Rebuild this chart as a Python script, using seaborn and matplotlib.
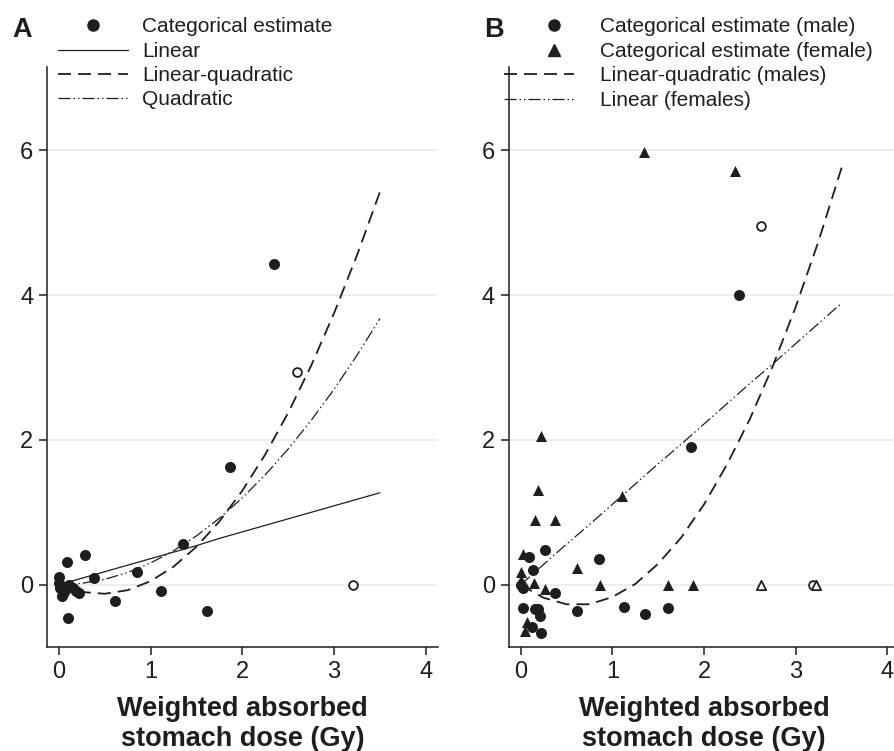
import matplotlib
matplotlib.use("Agg")
import matplotlib.pyplot as plt
from matplotlib.lines import Line2D
import seaborn as sns

# ---- panel A: all cancers combined ----
a_dose = [0.0, 0.0, 0.01, 0.03, 0.06, 0.09, 0.10, 0.11, 0.15, 0.19, 0.22,
          0.28, 0.38, 0.61, 0.85, 1.11, 1.35, 1.62, 1.86, 2.35]
a_est = [0.02, 0.10, -0.05, -0.16, -0.10, 0.31, -0.46, -0.01, -0.05, -0.08, -0.12,
         0.41, 0.09, -0.23, 0.18, -0.08, 0.56, -0.36, 1.63, 4.43]
a_open_dose = [2.60, 3.21]
a_open_est = [2.94, 0.0]

curve_dose = [0.0, 0.25, 0.5, 0.75, 1.0, 1.25, 1.5, 1.75, 2.0, 2.25, 2.5, 2.75, 3.0, 3.25, 3.5]
a_linear = [0.0, 0.09, 0.18, 0.27, 0.36, 0.45, 0.54, 0.64, 0.73, 0.82, 0.91, 1.0, 1.09, 1.18, 1.27]
a_linquad = [0.0, -0.10, -0.125, -0.075, 0.05, 0.25, 0.525, 0.875, 1.3, 1.8, 2.375, 3.025, 3.75, 4.55, 5.425]
a_quad = [0.0, 0.019, 0.075, 0.169, 0.3, 0.469, 0.675, 0.919, 1.2, 1.519, 1.875, 2.269, 2.7, 3.169, 3.675]

# ---- panel B: by sex ----
b_male_dose = [0.0, 0.03, 0.03, 0.09, 0.12, 0.14, 0.16, 0.19, 0.21, 0.22,
               0.27, 0.38, 0.61, 0.86, 1.13, 1.36, 1.61, 1.86, 2.38]
b_male_est = [0.0, -0.05, -0.32, 0.38, -0.58, 0.21, -0.33, -0.34, -0.43, -0.66,
              0.48, -0.12, -0.36, 0.35, -0.31, -0.41, -0.32, 1.90, 4.0]
b_male_open_dose = [2.62, 3.19]
b_male_open_est = [4.95, 0.0]

b_female_dose = [0.0, 0.0, 0.03, 0.05, 0.07, 0.15, 0.16, 0.19, 0.22,
                 0.27, 0.38, 0.62, 0.87, 1.11, 1.35, 1.61, 1.88, 2.34]
b_female_est = [0.18, 0.07, 0.43, -0.64, -0.52, 0.02, 0.90, 1.31, 2.06,
                -0.06, 0.90, 0.23, 0.0, 1.22, 5.98, 0.0, 0.0, 5.72]
b_female_open_dose = [2.62, 3.22]
b_female_open_est = [0.0, 0.0]

b_linquad_male = [0.0, -0.18, -0.27, -0.27, -0.17, 0.01, 0.29, 0.65, 1.11, 1.66, 2.29, 3.02, 3.84, 4.75, 5.76]
b_linear_female = [0.0, 0.28, 0.56, 0.83, 1.11, 1.39, 1.67, 1.94, 2.22, 2.5, 2.78, 3.05, 3.33, 3.61, 3.89]

xlabel = "Weighted absorbed\nstomach dose (Gy)"

sns.set_style("ticks")
plt.rcParams['font.family'] = ['Liberation Sans', 'DejaVu Sans']

ink = '#1e1e1e'
dash_lq = (0, (7.2, 3.9))
dash_ddot = (0, (9.6, 2.4, 1.2, 2.4, 1.2, 2.4))

fig = plt.figure(figsize=(8.94, 7.51), dpi=100)
ax_a = fig.add_axes([47 / 894, 104 / 751, 390.7 / 894, 580 / 751])
ax_b = fig.add_axes([508.7 / 894, 104 / 751, 390.7 / 894, 580 / 751])


def style_axis(ax):
    ax.set_xlim(-0.13, 4.13)
    ax.set_ylim(-0.86, 7.15)
    ax.set_xticks([0, 1, 2, 3, 4])
    ax.set_yticks([0, 2, 4, 6])
    ax.grid(axis='y', color='#ececec', lw=1.3)
    ax.set_axisbelow(True)
    sns.despine(ax=ax)
    for s in ['left', 'bottom']:
        ax.spines[s].set_color(ink)
        ax.spines[s].set_linewidth(1.1)
    ax.tick_params(direction='out', length=5.8, width=1.1, pad=4,
                   labelsize=17, colors=ink)
    ax.set_xlabel(xlabel, fontsize=19.5, fontweight='bold', color=ink,
                  linespacing=1.2, labelpad=10)
    ax.set_ylabel('')


def line(ax, y, lw, ls):
    sns.lineplot(x=curve_dose, y=y, ax=ax, color=ink, lw=lw, linestyle=ls,
                 estimator=None, sort=False, zorder=2)


# panel A
line(ax_a, a_linear, 0.9, '-')
line(ax_a, a_linquad, 1.3, dash_lq)
line(ax_a, a_quad, 0.9, dash_ddot)
sns.scatterplot(x=a_dose, y=a_est, ax=ax_a, color=ink, marker='o', s=63,
                linewidth=0, zorder=3)
sns.scatterplot(x=a_open_dose, y=a_open_est, ax=ax_a, color='white', marker='o',
                s=40, edgecolor=ink, linewidth=1.3, zorder=3)
style_axis(ax_a)

# panel B
line(ax_b, b_linquad_male, 1.3, dash_lq)
line(ax_b, b_linear_female, 0.9, dash_ddot)
sns.scatterplot(x=b_male_dose, y=b_male_est, ax=ax_b, color=ink, marker='o', s=63,
                linewidth=0, zorder=3)
sns.scatterplot(x=b_female_dose, y=b_female_est, ax=ax_b, color=ink, marker='^', s=63,
                linewidth=0, zorder=3)
sns.scatterplot(x=b_male_open_dose, y=b_male_open_est, ax=ax_b, color='white',
                marker='o', s=40, edgecolor=ink, linewidth=1.3, zorder=3)
sns.scatterplot(x=b_female_open_dose, y=b_female_open_est, ax=ax_b, color='white',
                marker='^', s=45, edgecolor=ink, linewidth=1.3, zorder=4)
style_axis(ax_b)

# legends (font 15pt = 20.8 px; handle 70 px wide)
leg_kw = dict(loc='upper left', frameon=False, fontsize=15, handlelength=3.36,
              labelspacing=0.255, borderpad=0, borderaxespad=0, labelcolor=ink)
top = 1 - 17.5 / 751
row = 24.5 / 751

h_a = [Line2D([], [], ls='none', marker='o', ms=8, color=ink),
       Line2D([], [], color=ink, lw=0.9),
       Line2D([], [], color=ink, lw=1.3, ls=dash_lq),
       Line2D([], [], color=ink, lw=0.9, ls=dash_ddot)]
fig.legend(h_a, ['Categorical estimate', 'Linear', 'Linear-quadratic', 'Quadratic'],
           bbox_to_anchor=(58 / 894, top), handletextpad=0.67, **leg_kw)

# panel B: markers sit right of the line samples, so two stacked legends
h_b1 = [Line2D([], [], ls='none', marker='o', ms=8, color=ink),
        Line2D([], [], ls='none', marker='^', ms=9, color=ink)]
fig.legend(h_b1, ['Categorical estimate (male)', 'Categorical estimate (female)'],
           bbox_to_anchor=(519 / 894, top), handletextpad=0.53, **leg_kw)
h_b2 = [Line2D([], [], color=ink, lw=1.3, ls=dash_lq),
        Line2D([], [], color=ink, lw=0.9, ls=dash_ddot)]
fig.legend(h_b2, ['Linear-quadratic (males)', 'Linear (females)'],
           bbox_to_anchor=(504 / 894, top - 2 * row), handletextpad=1.25, **leg_kw)

fig.text(12 / 894, 1 - 37 / 751, 'A', fontsize=19.5, fontweight='bold', color=ink, va='baseline')
fig.text(484 / 894, 1 - 37 / 751, 'B', fontsize=19.5, fontweight='bold', color=ink, va='baseline')

fig.savefig('out.png', dpi=100)
